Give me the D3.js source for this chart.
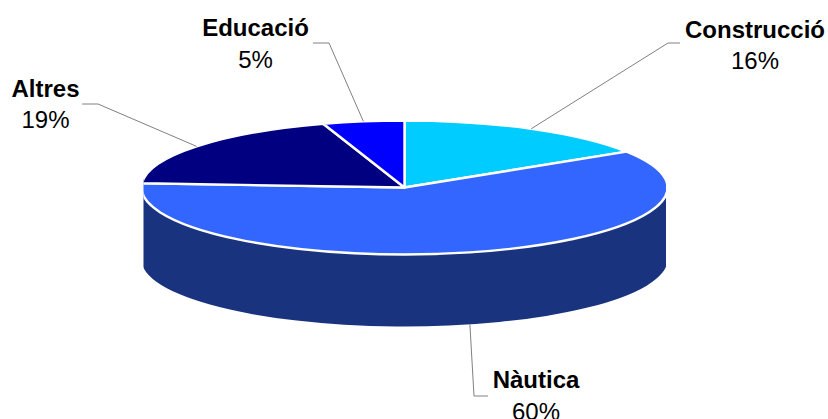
<!DOCTYPE html>
<html><head><meta charset="utf-8">
<script src="https://cdn.jsdelivr.net/npm/d3@7"></script>
<style>html,body{margin:0;padding:0;background:#fff;overflow:hidden}svg{display:block}
text{font-family:"Liberation Sans",Arial,sans-serif;font-size:24px;fill:#000;text-anchor:middle}
.n{font-weight:bold}</style></head><body><svg id="c" width="828" height="419"></svg>
<script>
const categories = ["Construcció","Nàutica","Altres","Educació"];
const values = [16,60,19,5];
const colors = ["#00CCFF","#3366FF","#000080","#0000FF"];
const wallColor = "#1A337F";

const W=828,H=419,cx=404.5,cy=187.5,rx=263,ry=67,depth=72,clipL=143.5,clipR=666;
const k=ry/rx, dz=depth/k;
// label layout: [elbow x, elbow y, end x, end y, text x, name baseline, value baseline]
const labelLayout=[
 [668,43,680,43,755,38,69],
 [474,396,488,396,536,388,420],
 [98,104,82,104,45.5,97,128],
 [329,43,313,43,255.5,36,68]];
const svg=d3.select("#c");
svg.append("clipPath").attr("id","cp").append("rect")
 .attr("x",clipL).attr("y",0).attr("width",clipR-clipL).attr("height",H);
const arcs=d3.pie().sort(null)(values);
const outer=svg.append("g").attr("clip-path","url(#cp)");
const g=outer.append("g").attr("transform",`translate(${cx},${cy}) scale(1,${k})`);
const arc=d3.arc().innerRadius(0).outerRadius(rx);
const toA=a=>a-Math.PI/2;
// side wall of every front-facing slice
arcs.forEach((d,i)=>{
  const a0=Math.max(d.startAngle,Math.PI/2), a1=Math.min(d.endAngle,3*Math.PI/2+0.12);
  if(a1<=a0)return;
  const p=d3.path();
  p.arc(0,0,rx,toA(a0),toA(a1));
  p.lineTo(rx*Math.cos(toA(a1)),rx*Math.sin(toA(a1))+dz);
  p.arc(0,dz,rx,toA(a1),toA(a0),true);
  p.closePath();
  g.append("path").attr("d",p.toString()).attr("fill",wallColor);
});
g.selectAll("path.top").data(arcs).join("path").attr("class","top")
 .attr("d",arc).attr("fill",(d,i)=>colors[i])
 .attr("stroke","#fff").attr("stroke-width",2.4).attr("vector-effect","non-scaling-stroke").attr("stroke-linejoin","round");

arcs.forEach((d,i)=>{
  const L=labelLayout[i], m=(d.startAngle+d.endAngle)/2;
  const sx=cx+rx*Math.sin(m), sy=cy-ry*Math.cos(m)+(Math.cos(m)<0?depth:0);
  svg.append("path").attr("d",d3.line()([[sx,sy],[L[0],L[1]],[L[2],L[3]]]))
   .attr("fill","none").attr("stroke","#808080").attr("stroke-width",1);
  svg.append("text").attr("class","n").attr("x",L[4]).attr("y",L[5]).text(categories[i]);
  svg.append("text").attr("x",L[4]).attr("y",L[6]).text(values[i]+"%");
});
</script></body></html>
